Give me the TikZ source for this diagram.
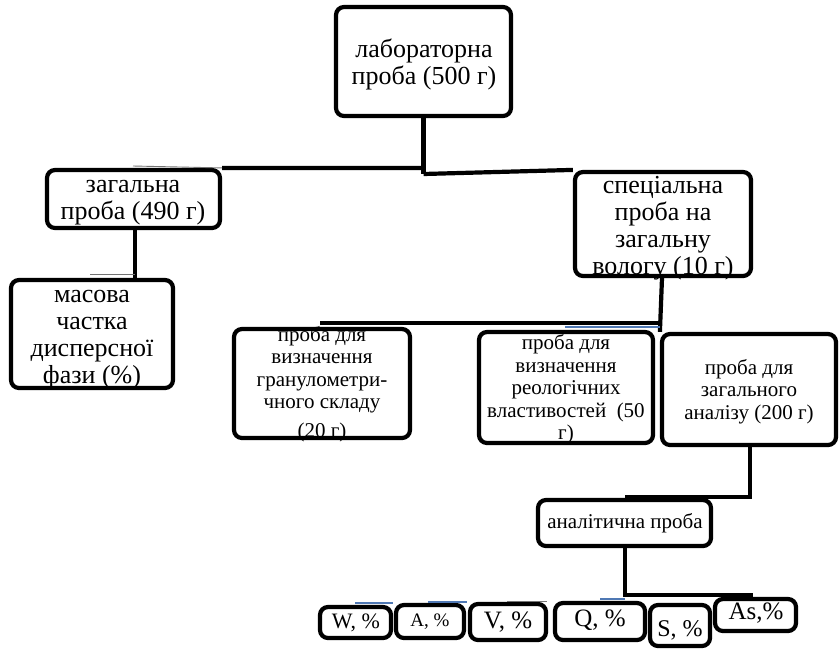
\documentclass[tikz,border=0pt]{standalone}
\usepackage{fontspec}
\setmainfont{Liberation Serif}
\newfontfamily\tnr{Liberation Serif}
\usetikzlibrary{fit}
\newcommand{\lines}[1]{\begin{tabular}{@{}c@{}}#1\end{tabular}}
\begin{document}
\begin{tikzpicture}[x=1pt,y=-1pt,
  box/.style={draw=black,line width=4.2pt,rounded corners=8pt,inner sep=0pt},
  link/.style={draw=black,line width=4.2pt},
  ghost/.style={draw=black!55,line width=0.9pt},
  ghostblue/.style={draw={rgb,255:red,79;green,120;blue,180},line width=1.2pt},
  bigtext/.style={font=\tnr\fontsize{26}{27}\selectfont,inner sep=0pt},
  midtext/.style={font=\tnr\fontsize{21}{22.5}\selectfont,inner sep=0pt},
  tag/.style={inner sep=0pt,font=\tnr\fontsize{#1}{#1}\selectfont}]
\useasboundingbox (0,0) rectangle (840,649);

% text of the tree
\node[bigtext] (labT) at (424,66) {\lines{лабораторна\\проба (500 г)}};
\node[bigtext] (zagT) at (133,201) {\lines{загальна\\проба (490 г)}};
\node[bigtext] (specT) at (663,229) {\lines{спеціальна\\проба на\\загальну\\вологу (10 г)}};
\node[bigtext] (masT) at (92,338) {\lines{масова\\частка\\дисперсної\\фази (\%)}};
\node[midtext] (granT) at (322,385) {\lines{проба для\\визначення\\гранулометри-\\чного складу\\[6.5pt](20 г)}};
\node[midtext] (reolT) at (566,390) {\lines{проба для\\визначення\\реологічних\\властивостей\ \ (50\\г)}};
\node[midtext] (zaganT) at (749,392) {\lines{проба для\\загального\\аналізу (200 г)}};
\node[midtext] (analT) at (625,523) {аналітична проба};
\node[tag=22] (wT) at (356,623) {W, \%};
\node[tag=19] (aT) at (430,622) {A, \%};
\node[tag=25] (vT) at (508,622) {V, \%};
\node[tag=25] (qT) at (600,620) {Q, \%};
\node[tag=24] (sT) at (680,630) {S, \%};
\node[tag=25] (asT) at (756,613) {As,\%};

% boxes
\node[box,fit={(336,7) (511,116)}] (lab) {};
\node[box,fit={(47,170) (220,228)}] (zag) {};
\node[box,fit={(575,172) (751,276)}] (spec) {};
\node[box,fit={(11,280) (173,388)}] (mas) {};
\node[box,fit={(234,329) (410,438)}] (gran) {};
\node[box,fit={(479,332) (653,443)}] (reol) {};
\node[box,fit={(662,334) (836,445)}] (zagan) {};
\node[box,fit={(538,500) (711,546)}] (anal) {};
\node[box,fit={(320,607) (391,638)}] (w) {};
\node[box,fit={(396,605) (464,638)}] (a) {};
\node[box,fit={(470,604) (546,640)}] (v) {};
\node[box,fit={(555,603) (645,640)}] (q) {};
\node[box,fit={(650,605) (710,646)}] (s) {};
\node[box,fit={(715,599) (796,631)}] (as) {};

% junction points
\coordinate (j1) at (lab.south |- 0,168);
\coordinate (j2) at (lab.south |- 0,174);
\coordinate (j3) at (spec.south -| 662,0);
\coordinate (j4) at (662,323);
\coordinate (j5) at (320,323);
\coordinate (j6) at (750,497);
\coordinate (j7) at (625,497);
\coordinate (j8) at (625,595);
\coordinate (j9) at (753,595);

% connectors
\draw[link] (lab.south) -- (j2);
\draw[link] (j1) -- (zag.north east);
\draw[link] (j2) -- (spec.north west);
\draw[link] (zag.south -| 135,0) -- (mas.north -| 135,0);
\draw[link] (j3) -- (zagan.north west);
\draw[link] (j4) -- (j5);
\draw[link] (zagan.south -| j6) -- (j6) -- (j7);
\draw[link] (anal.south -| j8) -- (j8) -- (j9);

% faint connector traces
\draw[ghost] (133,166) -- (zag.north east);
\draw[ghost] (90,274) -- (135,274);
\draw[ghostblue] (565,327) -- (660,327);
\draw[ghostblue] (355,603) -- (393,603);
\draw[ghostblue] (428,602) -- (467,602);
\draw[ghost] (507,601) -- (547,601);
\draw[ghostblue] (600,599) -- (625,599);
\end{tikzpicture}
\end{document}
